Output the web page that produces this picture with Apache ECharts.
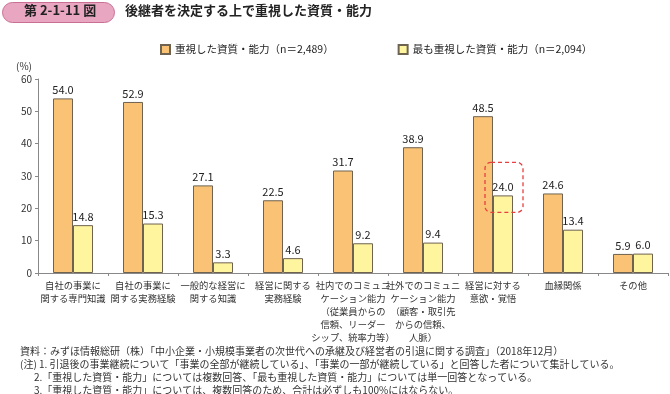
<!DOCTYPE html>
<html><head><meta charset="utf-8">
<script src="https://cdn.jsdelivr.net/npm/echarts@6/dist/echarts.min.js"></script>
<style>html,body{margin:0;padding:0;background:#fff}#c{width:670px;height:394px}</style>
</head><body><div id="c"></div>
<script>
const categories = [
  '自社の事業に\n関する専門知識',
  '自社の事業に\n関する実務経験',
  '一般的な経営に\n関する知識',
  '経営に関する\n実務経験',
  '社内でのコミュニ\nケーション能力\n（従業員からの\n信頼、リーダー\nシップ、統率力等）',
  '社外でのコミュニ\nケーション能力\n（顧客・取引先\nからの信頼、\n人脈）',
  '経営に対する\n意欲・覚悟',
  '血縁関係',
  'その他'
];
const seriesNames = ['重視した資質・能力（n＝2,489）', '最も重視した資質・能力（n＝2,094）'];
const valuesImportant = [54.0, 52.9, 27.1, 22.5, 31.7, 38.9, 48.5, 24.6, 5.9];
const valuesMost = [14.8, 15.3, 3.3, 4.6, 9.2, 9.4, 24.0, 13.4, 6.0];
const yTicks = [0, 10, 20, 30, 40, 50, 60];
const notes = [
  '資料：みずほ情報総研（株）「中小企業・小規模事業者の次世代への承継及び経営者の引退に関する調査」（2018年12月）',
  '(注) 1. 引退後の事業継続について「事業の全部が継続している」、「事業の一部が継続している」と回答した者について集計している。',
  '2.「重視した資質・能力」については複数回答、「最も重視した資質・能力」については単一回答となっている。',
  '3.「重視した資質・能力」については、複数回答のため、合計は必ずしも100%にはならない。'
];
const highlightIndex = 6;

const FONT = '"Noto Sans CJK JP", "Noto Sans", sans-serif';
const chart = echarts.init(document.getElementById('c'), null, {renderer: 'canvas'});
const labelCfg = {show: true, position: 'top', fontSize: 11, color: '#222', fontFamily: FONT, distance: 3, formatter: p => p.value.toFixed(1)};
const option = {
  animation: false,
  textStyle: {fontFamily: FONT},
  grid: {left: 38, right: 2, top: 79, bottom: 121, containLabel: false},
  legend: {
    top: 39, left: 155, itemGap: 64, itemWidth: 9, itemHeight: 9, icon: 'rect',
    textStyle: {fontSize: 10.5, color: '#222', fontFamily: FONT},
    data: seriesNames
  },
  xAxis: {
    type: 'category', data: categories,
    axisLine: {lineStyle: {color: '#888', width: 1}},
    axisTick: {show: true, length: 3, lineStyle: {color: '#888'}},
    axisLabel: {fontSize: 9.3, color: '#333', lineHeight: 13, margin: 6, interval: 0, fontFamily: FONT}
  },
  yAxis: {
    type: 'value', min: 0, max: 60, interval: 10,
    name: '(%)', nameLocation: 'end', nameGap: 8,
    nameTextStyle: {fontSize: 10, color: '#333', align: 'right', padding: [0, 6, 0, 0]},
    axisLine: {show: true, lineStyle: {color: '#888'}},
    axisTick: {show: true, inside: false, length: 3, lineStyle: {color: '#888'}},
    splitLine: {show: false},
    axisLabel: {fontSize: 10, color: '#333', margin: 6, formatter: v => yTicks.includes(v) ? String(v) : ''}
  },
  series: [
    {name: seriesNames[0], type: 'bar', data: valuesImportant, barWidth: 20, barGap: '0%',
     itemStyle: {color: '#F9C275', borderColor: '#6e6250', borderWidth: 1}, label: labelCfg},
    {name: seriesNames[1], type: 'bar', data: valuesMost, barWidth: 20, barGap: '0%',
     itemStyle: {color: '#FFF59E', borderColor: '#6e6250', borderWidth: 1}, label: labelCfg}
  ],
  graphic: [
    {type: 'rect', left: 2, top: 2, shape: {width: 112, height: 20, r: 10},
     style: {fill: '#E9A6C0', stroke: '#C96F95', lineWidth: 1}},
    {type: 'text', left: 24, top: 4, style: {text: '第 2-1-11 図', font: 'bold 13px ' + FONT, fill: '#222'}},
    {type: 'text', left: 125, top: 4, style: {text: '後継者を決定する上で重視した資質・能力', font: 'bold 13px ' + FONT, fill: '#222'}}
  ].concat(notes.map((t, i) => ({type: 'text', left: i >= 2 ? 34 : 20, top: 346 + i * 13,
     style: {text: t, font: '10px ' + FONT, fill: '#333'}})))
};
chart.setOption(option);
// dashed highlight box around the highlighted "most important" bar label
const p1 = chart.convertToPixel({gridIndex: 0}, [highlightIndex, valuesMost[highlightIndex]]);
const boxW = 38, boxH = 50;
chart.setOption({graphic: option.graphic.concat([{
  type: 'rect', z: 100, x: p1[0] - 8, y: p1[1] - 33,
  shape: {x: 0, y: 0, width: boxW, height: boxH, r: 6},
  style: {fill: 'none', stroke: '#E84040', lineWidth: 1.3, lineDash: [4, 3]}
}])});
</script></body></html>
